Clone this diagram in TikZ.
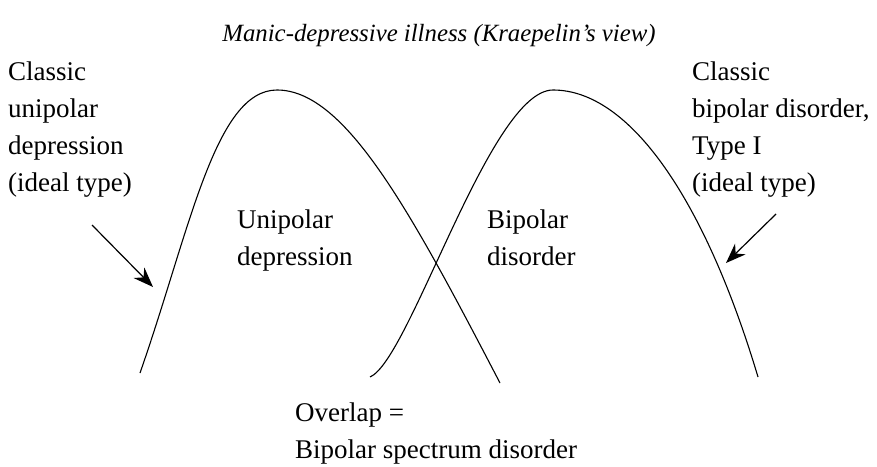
\documentclass[tikz,border=0pt]{standalone}
\usepackage{fontspec}
\setmainfont{Liberation Serif}
\usetikzlibrary{arrows.meta}
\begin{document}
\begin{tikzpicture}[x=1pt,y=-1pt,
  lbl/.style={anchor=base west, inner sep=0pt, font=\fontsize{27}{37}\selectfont, align=left},
  ttl/.style={anchor=base, inner sep=0pt, font=\fontsize{24.8}{30}\selectfont\itshape},
  curve/.style={line width=1.1pt},
  pointer/.style={line width=1.2pt, -{Stealth[length=20pt,width=15pt]}}]
\useasboundingbox (0,0) rectangle (877,466);
\node[ttl] (title) at (439,41) {Manic-depressive illness (Kraepelin’s view)};
% multi-line nodes: base anchor = baseline of the last line
\node[lbl] (cu) at (8,191) {Classic\\unipolar\\depression\\(ideal type)};
\node[lbl] (cb) at (692,191) {Classic\\bipolar disorder,\\Type I\\(ideal type)};
\node[lbl] (ud) at (237,265) {Unipolar\\depression};
\node[lbl] (bd) at (487,265) {Bipolar\\disorder};
\node[lbl] (ov) at (295,458) {Overlap =\\Bipolar spectrum disorder};
\draw[curve] (140,373) .. controls (190,230) and (215,90) .. (277,90)
                       .. controls (345,90) and (410,210) .. (500,383);
\draw[curve] (370,377) .. controls (410,360) and (490,90) .. (553,90)
                       .. controls (630,90) and (705,200) .. (758,377);
\coordinate (a1s) at (92,225);
\coordinate (a1e) at (153,287);
\coordinate (a2s) at (776,214);
\coordinate (a2e) at (726,263);
\draw[pointer] (a1s) -- (a1e);
\draw[pointer] (a2s) -- (a2e);
\end{tikzpicture}
\end{document}
